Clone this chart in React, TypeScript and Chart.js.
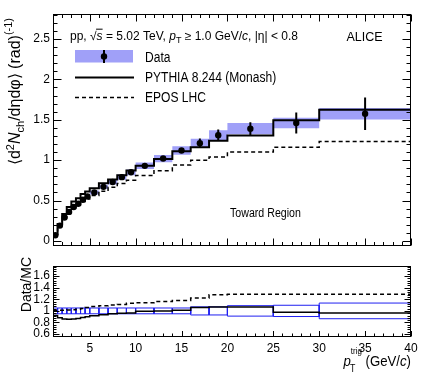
import React, { useEffect, useRef } from "react";
import { Chart, registerables } from "chart.js";

Chart.register(...registerables);

// ---------- data ----------
const binEdges = [1, 1.5, 2, 2.5, 3, 3.5, 4, 4.5, 5, 6, 7, 8, 9, 10, 12, 14, 16, 18, 20, 25, 30, 40];
const dataValues = [0.07, 0.19, 0.29, 0.36, 0.42, 0.46, 0.51, 0.55, 0.6, 0.67, 0.73, 0.79, 0.85, 0.93, 1.02, 1.12, 1.21, 1.31, 1.39, 1.46, 1.575];
const dataStatErr = [0.004, 0.004, 0.004, 0.004, 0.005, 0.005, 0.005, 0.005, 0.006, 0.007, 0.008, 0.009, 0.01, 0.012, 0.016, 0.03, 0.058, 0.07, 0.08, 0.13, 0.2];
const dataSystErr = [0.004, 0.008, 0.011, 0.013, 0.015, 0.017, 0.019, 0.021, 0.024, 0.027, 0.03, 0.032, 0.035, 0.04, 0.044, 0.052, 0.056, 0.06, 0.07, 0.065, 0.07];
const pythiaValues = [0.086, 0.21, 0.333, 0.419, 0.488, 0.529, 0.58, 0.611, 0.652, 0.713, 0.76, 0.814, 0.872, 0.93, 1.015, 1.11, 1.16, 1.24, 1.305, 1.495, 1.625];
const eposValues = [0.078, 0.188, 0.285, 0.353, 0.41, 0.447, 0.49, 0.52, 0.562, 0.615, 0.664, 0.712, 0.752, 0.81, 0.87, 0.94, 1.0, 1.04, 1.1, 1.16, 1.23];
const ratioSystErr = [0.05, 0.05, 0.05, 0.05, 0.05, 0.05, 0.05, 0.05, 0.05, 0.05, 0.05, 0.05, 0.05, 0.05, 0.05, 0.05, 0.07, 0.07, 0.09, 0.097, 0.135];
const ratioPythia = [0.92, 0.88, 0.86, 0.855, 0.86, 0.87, 0.885, 0.9, 0.915, 0.935, 0.95, 0.96, 0.965, 0.995, 1.0, 1.01, 1.06, 1.065, 1.065, 0.975, 0.965];
const ratioEpos = [1.01, 1.01, 1.01, 1.015, 1.02, 1.03, 1.04, 1.06, 1.075, 1.09, 1.1, 1.11, 1.13, 1.14, 1.16, 1.18, 1.22, 1.28, 1.285, 1.285, 1.285];
const yTicksMain = [0, 0.5, 1, 1.5, 2, 2.5];
const yTicksRatio = [0.6, 0.8, 1, 1.2, 1.4, 1.6];
const xTickLabels = [5, 10, 15, 20, 25, 30, 35, 40];

// ---------- helpers ----------
const FONT = '"Liberation Sans", Arial, Helvetica, sans-serif';
const BAND = "rgb(160,160,248)";
const BOXBLUE = "#1f1ff0";

const centers = binEdges.slice(0, -1).map((lo, i) => (lo + binEdges[i + 1]) / 2);
const stepPoints = (vals: number[]) =>
  binEdges.map((e, i) => ({ x: e, y: vals[Math.min(i, vals.length - 1)] }));

type Seg = { t: string; size: number; italic?: boolean; dy?: number; over?: boolean; under?: string; underDy?: number; underSize?: number };

function segFont(size: number, italic?: boolean) {
  return `${italic ? "italic " : ""}${size}px ${FONT}`;
}
function segWidth(ctx: CanvasRenderingContext2D, s: Seg) {
  ctx.font = segFont(s.size, s.italic);
  let w = ctx.measureText(s.t).width;
  if (s.under) {
    ctx.font = segFont(s.underSize || s.size, false);
    w = Math.max(w, ctx.measureText(s.under).width);
  }
  return w;
}
function drawRich(
  ctx: CanvasRenderingContext2D,
  segs: Seg[],
  x: number,
  y: number,
  o: { sx?: number; rotate?: boolean; align?: "left" | "right" } = {}
) {
  ctx.save();
  ctx.translate(x, y);
  if (o.rotate) ctx.rotate(-Math.PI / 2);
  ctx.scale(o.sx ?? 1, 1);
  ctx.fillStyle = "#000";
  ctx.strokeStyle = "#000";
  ctx.textBaseline = "alphabetic";
  ctx.textAlign = "left";
  let total = 0;
  for (const s of segs) total += segWidth(ctx, s);
  let cx = o.align === "right" ? -total : 0;
  for (const s of segs) {
    const w = segWidth(ctx, s);
    ctx.font = segFont(s.size, s.italic);
    ctx.fillText(s.t, cx, s.dy ?? 0);
    if (s.over) {
      ctx.lineWidth = 1;
      ctx.beginPath();
      const yy = (s.dy ?? 0) - s.size * 0.86;
      ctx.moveTo(cx - 0.5, yy);
      ctx.lineTo(cx + w, yy);
      ctx.stroke();
    }
    if (s.under) {
      ctx.font = segFont(s.underSize || s.size, false);
      ctx.fillText(s.under, cx - 1, s.underDy ?? 0);
    }
    cx += w;
  }
  ctx.restore();
}

const rootFrame = {
  id: "rootFrame",
  afterDraw(chart: any, _args: any, o: any) {
    const { ctx, chartArea: a } = chart;
    const xs = chart.scales.x;
    const ys = chart.scales.y;
    const L = Math.round(a.left) + 0.5;
    const R = Math.round(a.right) - 0.5;
    const T = Math.round(a.top) + 0.5;
    const B = Math.round(a.bottom) - 0.5;
    ctx.save();
    ctx.strokeStyle = "#000";
    ctx.lineWidth = 1;
    ctx.setLineDash([]);
    ctx.strokeRect(L, T, R - L, B - T);
    ctx.beginPath();
    const xr = Math.round(o.xMajor / o.xMinor);
    for (let k = Math.ceil(xs.min / o.xMinor - 1e-9); k * o.xMinor <= xs.max + 1e-9; k++) {
      const px = Math.round(xs.getPixelForValue(k * o.xMinor)) + 0.5;
      const len = k % xr === 0 ? o.xMajorLen : o.xMinorLen;
      ctx.moveTo(px, B);
      ctx.lineTo(px, B - len);
      if (o.top) {
        ctx.moveTo(px, T);
        ctx.lineTo(px, T + len);
      }
    }
    const yr = Math.round(o.yMajor / o.yMinor);
    for (let k = Math.ceil(ys.min / o.yMinor - 1e-9); k * o.yMinor <= ys.max + 1e-9; k++) {
      const py = Math.round(ys.getPixelForValue(k * o.yMinor)) + 0.5;
      const len = k % yr === 0 ? o.yMajorLen : o.yMinorLen;
      ctx.moveTo(L, py);
      ctx.lineTo(L + len, py);
      ctx.moveTo(R, py);
      ctx.lineTo(R - len, py);
    }
    ctx.stroke();
    ctx.restore();
  },
};

const topText = {
  id: "topText",
  afterDraw(chart: any) {
    const ctx: CanvasRenderingContext2D = chart.ctx;
    // y-axis title
    drawRich(
      ctx,
      [
        { t: "\u27E8d", size: 16 },
        { t: "2", size: 11, dy: -6.5 },
        { t: "N", size: 16, italic: true },
        { t: "ch", size: 11, dy: 3.5 },
        { t: "/d\u03B7d\u03C6\u27E9 (rad)", size: 16 },
        { t: "(-1)", size: 11, dy: -8.5 },
      ],
      20,
      18,
      { rotate: true, align: "right", sx: 1 }
    );
    // header
    drawRich(
      ctx,
      [
        { t: "pp, ", size: 12 },
        { t: "\u221A", size: 12 },
        { t: "s", size: 12, italic: true, over: true },
        { t: " = 5.02 TeV, ", size: 12 },
        { t: "p", size: 12, italic: true },
        { t: "T", size: 9, dy: 3.5 },
        { t: " \u2265 1.0 GeV/", size: 12 },
        { t: "c", size: 12, italic: true },
        { t: ", |\u03B7| < 0.8", size: 12 },
      ],
      70,
      39.5
    );
    drawRich(ctx, [{ t: "ALICE", size: 12.5 }], 346.5, 40.5);
    // legend
    ctx.save();
    ctx.fillStyle = BAND;
    ctx.fillRect(75, 50, 58, 12.5);
    ctx.strokeStyle = "#000";
    ctx.lineWidth = 2;
    ctx.beginPath();
    ctx.moveTo(104, 50);
    ctx.lineTo(104, 63);
    ctx.stroke();
    ctx.fillStyle = "#000";
    ctx.beginPath();
    ctx.arc(104, 56.5, 3.2, 0, Math.PI * 2);
    ctx.fill();
    ctx.beginPath();
    ctx.moveTo(75, 77.5);
    ctx.lineTo(134, 77.5);
    ctx.stroke();
    ctx.lineWidth = 1.5;
    ctx.setLineDash([4, 3]);
    ctx.beginPath();
    ctx.moveTo(75, 97.5);
    ctx.lineTo(134, 97.5);
    ctx.stroke();
    ctx.restore();
    drawRich(ctx, [{ t: "Data", size: 14 }], 145, 61.7, { sx: 0.86 });
    drawRich(ctx, [{ t: "PYTHIA 8.244 (Monash)", size: 14 }], 145, 82.3, { sx: 0.86 });
    drawRich(ctx, [{ t: "EPOS LHC", size: 14 }], 145, 101.7, { sx: 0.86 });
    drawRich(ctx, [{ t: "Toward Region", size: 12.5 }], 230, 217.3, { sx: 0.85 });
  },
};

const botText = {
  id: "botText",
  afterDraw(chart: any) {
    const ctx: CanvasRenderingContext2D = chart.ctx;
    drawRich(ctx, [{ t: "Data/MC", size: 14 }], 31, 1, { rotate: true, align: "right" });
    drawRich(
      ctx,
      [
        { t: "p", size: 15, italic: true },
        { t: "trig", size: 9, dy: -12, under: "T", underDy: 6, underSize: 10 },
        { t: " (GeV/", size: 15 },
        { t: "c", size: 15, italic: true },
        { t: ")", size: 15 },
      ],
      411,
      109.5,
      { align: "right", sx: 0.88 }
    );
  },
};

function axisY(min: number, max: number, ticks: number[]) {
  return {
    type: "linear",
    min,
    max,
    grid: { display: false, drawTicks: false },
    border: { display: false },
    ticks: {
      color: "#000",
      font: { family: FONT, size: 12 },
      padding: 3,
      autoSkip: false,
      callback: (v: any) => String(v),
    },
    afterBuildTicks: (scale: any) => {
      scale.ticks = ticks.map((v) => ({ value: v }));
    },
    afterFit: (scale: any) => {
      scale.width = 53;
    },
  };
}

function topConfig(): any {
  return {
    type: "line",
    data: {
      datasets: [
        {
          data: stepPoints(dataValues.map((v, i) => v + dataSystErr[i])),
          stepped: true,
          borderColor: "rgba(0,0,0,0)",
          borderWidth: 1,
          pointRadius: 0,
          fill: false,
          order: 10,
        },
        {
          data: stepPoints(dataValues.map((v, i) => v - dataSystErr[i])),
          stepped: true,
          borderColor: "rgba(0,0,0,0)",
          borderWidth: 1,
          pointRadius: 0,
          fill: "-1",
          backgroundColor: BAND,
          order: 9,
        },
        {
          data: [{ x: binEdges[0], y: 0 }, ...stepPoints(eposValues)],
          stepped: true,
          borderColor: "#000",
          borderWidth: 1.5,
          borderDash: [4, 3],
          pointRadius: 0,
          fill: false,
          order: 4,
        },
        {
          data: [{ x: binEdges[0], y: 0 }, ...stepPoints(pythiaValues)],
          stepped: true,
          borderColor: "#000",
          borderWidth: 2,
          pointRadius: 0,
          fill: false,
          order: 3,
        },
        {
          data: centers.flatMap((c, i) => [
            { x: c, y: dataValues[i] - dataStatErr[i] },
            { x: c, y: dataValues[i] + dataStatErr[i] },
            { x: c, y: null },
          ]),
          borderColor: "#000",
          borderWidth: 2,
          pointRadius: 0,
          spanGaps: false,
          fill: false,
          order: 2,
        },
        {
          data: centers.map((c, i) => ({ x: c, y: dataValues[i] })),
          showLine: false,
          pointRadius: 3.2,
          pointBackgroundColor: "#000",
          pointBorderColor: "#000",
          pointBorderWidth: 0,
          fill: false,
          order: 1,
        },
      ],
    },
    options: {
      responsive: false,
      animation: false,
      events: [],
      layout: { padding: { left: 0, right: 20, top: 14, bottom: 3 } },
      scales: {
        x: { type: "linear", min: 1, max: 40, display: false },
        y: axisY(-0.06, 2.81, yTicksMain),
      },
      plugins: {
        legend: { display: false },
        tooltip: { enabled: false },
        rootFrame: {
          xMinor: 1, xMajor: 5, xMajorLen: 7, xMinorLen: 3.5,
          yMinor: 0.1, yMajor: 0.5, yMajorLen: 8, yMinorLen: 4, top: true,
        },
      },
    },
    plugins: [rootFrame, topText],
  };
}

function botConfig(): any {
  return {
    type: "line",
    data: {
      datasets: [
        {
          data: binEdges.slice(0, -1).flatMap((lo, i) => {
            const hi = binEdges[i + 1];
            const s = ratioSystErr[i];
            return [
              { x: lo, y: 1 - s },
              { x: lo, y: 1 + s },
              { x: hi, y: 1 + s },
              { x: hi, y: 1 - s },
              { x: lo, y: 1 - s },
              { x: lo, y: null },
            ];
          }),
          borderColor: BOXBLUE,
          borderWidth: 1,
          pointRadius: 0,
          spanGaps: false,
          fill: false,
          order: 5,
        },
        {
          data: stepPoints(ratioEpos),
          stepped: true,
          borderColor: "#000",
          borderWidth: 1.5,
          borderDash: [4, 3],
          pointRadius: 0,
          fill: false,
          order: 3,
        },
        {
          data: stepPoints(ratioPythia),
          stepped: true,
          borderColor: "#000",
          borderWidth: 1.5,
          pointRadius: 0,
          fill: false,
          order: 2,
        },
      ],
    },
    options: {
      responsive: false,
      animation: false,
      events: [],
      layout: { padding: { left: 0, right: 20, top: 1.5, bottom: 0 } },
      scales: {
        x: {
          type: "linear",
          min: 1,
          max: 40,
          grid: { display: false, drawTicks: false },
          border: { display: false },
          ticks: {
            color: "#000",
            font: { family: FONT, size: 12 },
            padding: 4,
            maxRotation: 0,
            autoSkip: false,
            callback: (v: any) => String(v),
          },
          afterBuildTicks: (scale: any) => {
            scale.ticks = xTickLabels.map((v) => ({ value: v }));
          },
          afterFit: (scale: any) => {
            scale.height = 38.7;
          },
        },
        y: axisY(0.545, 1.77, yTicksRatio),
      },
      plugins: {
        legend: { display: false },
        tooltip: { enabled: false },
        rootFrame: {
          xMinor: 1, xMajor: 5, xMajorLen: 5.5, xMinorLen: 3,
          yMinor: 0.04, yMajor: 0.2, yMajorLen: 6, yMinorLen: 3, top: false,
        },
      },
    },
    plugins: [rootFrame, botText],
  };
}

export default function App() {
  const topRef = useRef<HTMLCanvasElement>(null);
  const botRef = useRef<HTMLCanvasElement>(null);
  useEffect(() => {
    const top = new Chart(topRef.current as HTMLCanvasElement, topConfig());
    const bot = new Chart(botRef.current as HTMLCanvasElement, botConfig());
    return () => {
      top.destroy();
      bot.destroy();
    };
  }, []);
  return (
    <div style={{ position: "fixed", left: 0, top: 0, width: 431, height: 376, background: "#fff" }}>
      <canvas ref={topRef} width={431} height={256} style={{ position: "absolute", left: 0, top: 0, display: "block" }} />
      <canvas ref={botRef} width={431} height={120} style={{ position: "absolute", left: 0, top: 256, display: "block" }} />
    </div>
  );
}
